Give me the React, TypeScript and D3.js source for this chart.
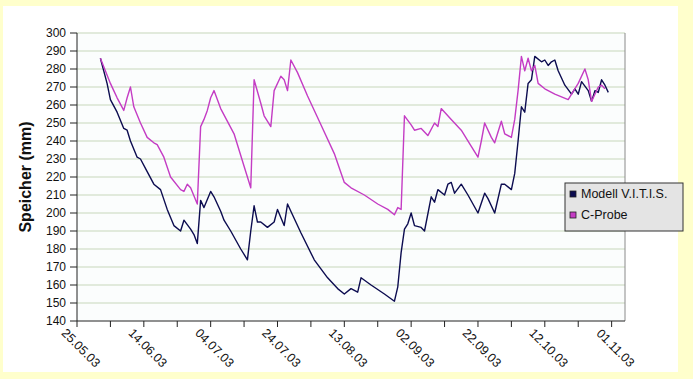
import * as d3 from 'd3';

// Soil water storage (mm), daily readings
const modellSeries: [string, number][] = [
  ['01.06.03', 286], ['03.06.03', 272], ['04.06.03', 263], ['06.06.03', 256], ['08.06.03', 247],
  ['09.06.03', 246], ['10.06.03', 240], ['12.06.03', 231], ['13.06.03', 230], ['15.06.03', 223],
  ['17.06.03', 216], ['19.06.03', 213], ['21.06.03', 202], ['23.06.03', 193], ['25.06.03', 190],
  ['26.06.03', 196], ['28.06.03', 191], ['29.06.03', 188], ['30.06.03', 183], ['01.07.03', 207],
  ['02.07.03', 203], ['04.07.03', 212], ['05.07.03', 209], ['07.07.03', 201], ['08.07.03', 196],
  ['10.07.03', 190], ['13.07.03', 180], ['15.07.03', 174], ['16.07.03', 190], ['17.07.03', 204],
  ['18.07.03', 195], ['19.07.03', 195], ['21.07.03', 192], ['23.07.03', 195], ['24.07.03', 202],
  ['26.07.03', 193], ['27.07.03', 205], ['28.07.03', 201], ['31.07.03', 189], ['04.08.03', 174],
  ['08.08.03', 164], ['11.08.03', 158], ['13.08.03', 155], ['15.08.03', 158], ['17.08.03', 156],
  ['18.08.03', 164], ['21.08.03', 160], ['25.08.03', 155], ['28.08.03', 151], ['29.08.03', 159],
  ['30.08.03', 178], ['31.08.03', 191], ['01.09.03', 194], ['02.09.03', 200], ['03.09.03', 193],
  ['05.09.03', 192], ['06.09.03', 190], ['08.09.03', 209], ['09.09.03', 206], ['10.09.03', 213],
  ['12.09.03', 210], ['13.09.03', 216], ['14.09.03', 217], ['15.09.03', 211], ['17.09.03', 216],
  ['19.09.03', 210], ['22.09.03', 200], ['24.09.03', 211], ['25.09.03', 208], ['27.09.03', 200],
  ['29.09.03', 216], ['30.09.03', 216], ['02.10.03', 213], ['03.10.03', 222], ['04.10.03', 240],
  ['05.10.03', 259], ['06.10.03', 256], ['07.10.03', 272], ['08.10.03', 274], ['09.10.03', 287],
  ['11.10.03', 284], ['12.10.03', 285], ['13.10.03', 282], ['14.10.03', 284], ['15.10.03', 285],
  ['16.10.03', 279], ['18.10.03', 271], ['20.10.03', 266], ['21.10.03', 269], ['22.10.03', 266],
  ['23.10.03', 273], ['25.10.03', 268], ['26.10.03', 262], ['27.10.03', 268], ['28.10.03', 267],
  ['29.10.03', 274], ['30.10.03', 271], ['31.10.03', 267],
];

const probeSeries: [string, number][] = [
  ['01.06.03', 286], ['04.06.03', 272], ['05.06.03', 268], ['06.06.03', 264], ['08.06.03', 257],
  ['09.06.03', 264], ['10.06.03', 270], ['11.06.03', 259], ['13.06.03', 250], ['15.06.03', 242],
  ['17.06.03', 239], ['18.06.03', 238], ['20.06.03', 231], ['22.06.03', 220], ['25.06.03', 213],
  ['26.06.03', 212], ['27.06.03', 216], ['28.06.03', 214], ['30.06.03', 205], ['01.07.03', 248],
  ['02.07.03', 252], ['03.07.03', 257], ['04.07.03', 264], ['05.07.03', 268], ['07.07.03', 258],
  ['11.07.03', 244], ['14.07.03', 226], ['15.07.03', 220], ['16.07.03', 214], ['17.07.03', 274],
  ['19.07.03', 261], ['20.07.03', 254], ['22.07.03', 248], ['23.07.03', 268], ['25.07.03', 276],
  ['26.07.03', 274], ['27.07.03', 268], ['28.07.03', 285], ['30.07.03', 278], ['02.08.03', 265],
  ['06.08.03', 249], ['10.08.03', 233], ['13.08.03', 217], ['15.08.03', 214], ['19.08.03', 210],
  ['23.08.03', 205], ['26.08.03', 202], ['28.08.03', 199], ['29.08.03', 203], ['30.08.03', 202],
  ['31.08.03', 254], ['02.09.03', 249], ['03.09.03', 246], ['05.09.03', 247], ['07.09.03', 243],
  ['09.09.03', 250], ['10.09.03', 248], ['11.09.03', 258], ['14.09.03', 252], ['17.09.03', 246],
  ['20.09.03', 237], ['22.09.03', 231], ['23.09.03', 240], ['24.09.03', 250], ['26.09.03', 242],
  ['27.09.03', 239], ['29.09.03', 251], ['30.09.03', 244], ['02.10.03', 242], ['03.10.03', 252],
  ['04.10.03', 268], ['05.10.03', 287], ['06.10.03', 279], ['07.10.03', 286], ['08.10.03', 279],
  ['09.10.03', 282], ['10.10.03', 272], ['12.10.03', 269], ['15.10.03', 266], ['19.10.03', 263],
  ['20.10.03', 266], ['22.10.03', 272], ['24.10.03', 280], ['25.10.03', 274], ['26.10.03', 262],
  ['27.10.03', 266], ['28.10.03', 270], ['29.10.03', 271], ['30.10.03', 269],
];

const seriesNames = ['Modell V.I.T.I.S.', 'C-Probe'];
const xTickLabels = ['25.05.03', '14.06.03', '04.07.03', '24.07.03', '13.08.03', '02.09.03', '22.09.03', '12.10.03', '01.11.03'];
const yTicks = [140, 150, 160, 170, 180, 190, 200, 210, 220, 230, 240, 250, 260, 270, 280, 290, 300];

const parse = d3.timeParse('%d.%m.%y');
const FONT = '"Liberation Sans", Arial, sans-serif';
const COLORS = ['#0c0c50', '#c43cc4'];

export default function App() {
  const W = 693;
  const H = 379;
  const left = 77, right = 625, top = 33, bottom = 321;

  const start = parse('25.05.03') as Date;
  const x = d3.scaleTime()
    .domain([start, d3.timeDay.offset(start, 164)])
    .range([left, right]);
  const y = d3.scaleLinear().domain([140, 300]).range([bottom, top]);

  const minorTicks = d3.range(0, 17).map((i) => d3.timeDay.offset(start, i * 10));

  const line = d3.line<[string, number]>()
    .x((d) => x(parse(d[0]) as Date))
    .y((d) => y(d[1]));

  const series = [modellSeries, probeSeries];

  return (
    <svg width={W} height={H} style={{ position: 'absolute', left: 0, top: 0 }} fontFamily={FONT}>
      <rect x={0} y={0} width={W} height={H} fill="#ffffcc" />
      <rect x={3} y={6} width={675} height={366} fill="#ffffff" />
      <rect x={left} y={top} width={right - left} height={bottom - top} fill="#fbfdfd" />

      {/* horizontal grid */}
      {yTicks.filter((t) => t > 140).map((t) => (
        <line key={t} x1={left} x2={right} y1={y(t)} y2={y(t)} stroke="#d9e3d0" strokeWidth={1.5} />
      ))}
      <line x1={right} x2={right} y1={top} y2={bottom} stroke="#8a8a8a" strokeWidth={1} />

      {/* series */}
      {series.map((s, i) => (
        <path key={i} d={line(s) || ''} fill="none" stroke={COLORS[i]} strokeWidth={1.4} strokeLinejoin="round" />
      ))}

      {/* y axis */}
      <line x1={left} x2={left} y1={top} y2={bottom} stroke="#222" />
      {yTicks.map((t) => (
        <g key={t}>
          <line x1={left - 7} x2={left} y1={y(t)} y2={y(t)} stroke="#222" />
          <text x={left - 11} y={y(t) + 4} textAnchor="end" fontSize={12} fill="#111">{t}</text>
        </g>
      ))}
      <text transform={`translate(31,${(top + bottom) / 2}) rotate(-90)`} textAnchor="middle"
        fontSize={16} fontWeight="bold" fill="#111">Speicher (mm)</text>

      {/* x axis */}
      <line x1={left} x2={right} y1={bottom} y2={bottom} stroke="#222" />
      {minorTicks.map((d, i) => (
        <line key={i} x1={x(d)} x2={x(d)} y1={bottom} y2={bottom + 6} stroke="#222" />
      ))}
      {xTickLabels.map((lab) => (
        <text key={lab} transform={`translate(${x(parse(lab) as Date) + 1},${bottom + 30}) rotate(45)`}
          textAnchor="middle" fontSize={12.5} fill="#111">{lab}</text>
      ))}

      {/* legend */}
      <rect x={565} y={183} width={118} height={48} fill="#e4e4e4" stroke="#333" />
      {seriesNames.map((n, i) => (
        <g key={n}>
          <rect x={570} y={191 + i * 21} width={6} height={6} fill={COLORS[i]} stroke="#222" strokeWidth={0.8} />
          <text x={581} y={198 + i * 21} fontSize={12.5} fill="#111">{n}</text>
        </g>
      ))}
    </svg>
  );
}
